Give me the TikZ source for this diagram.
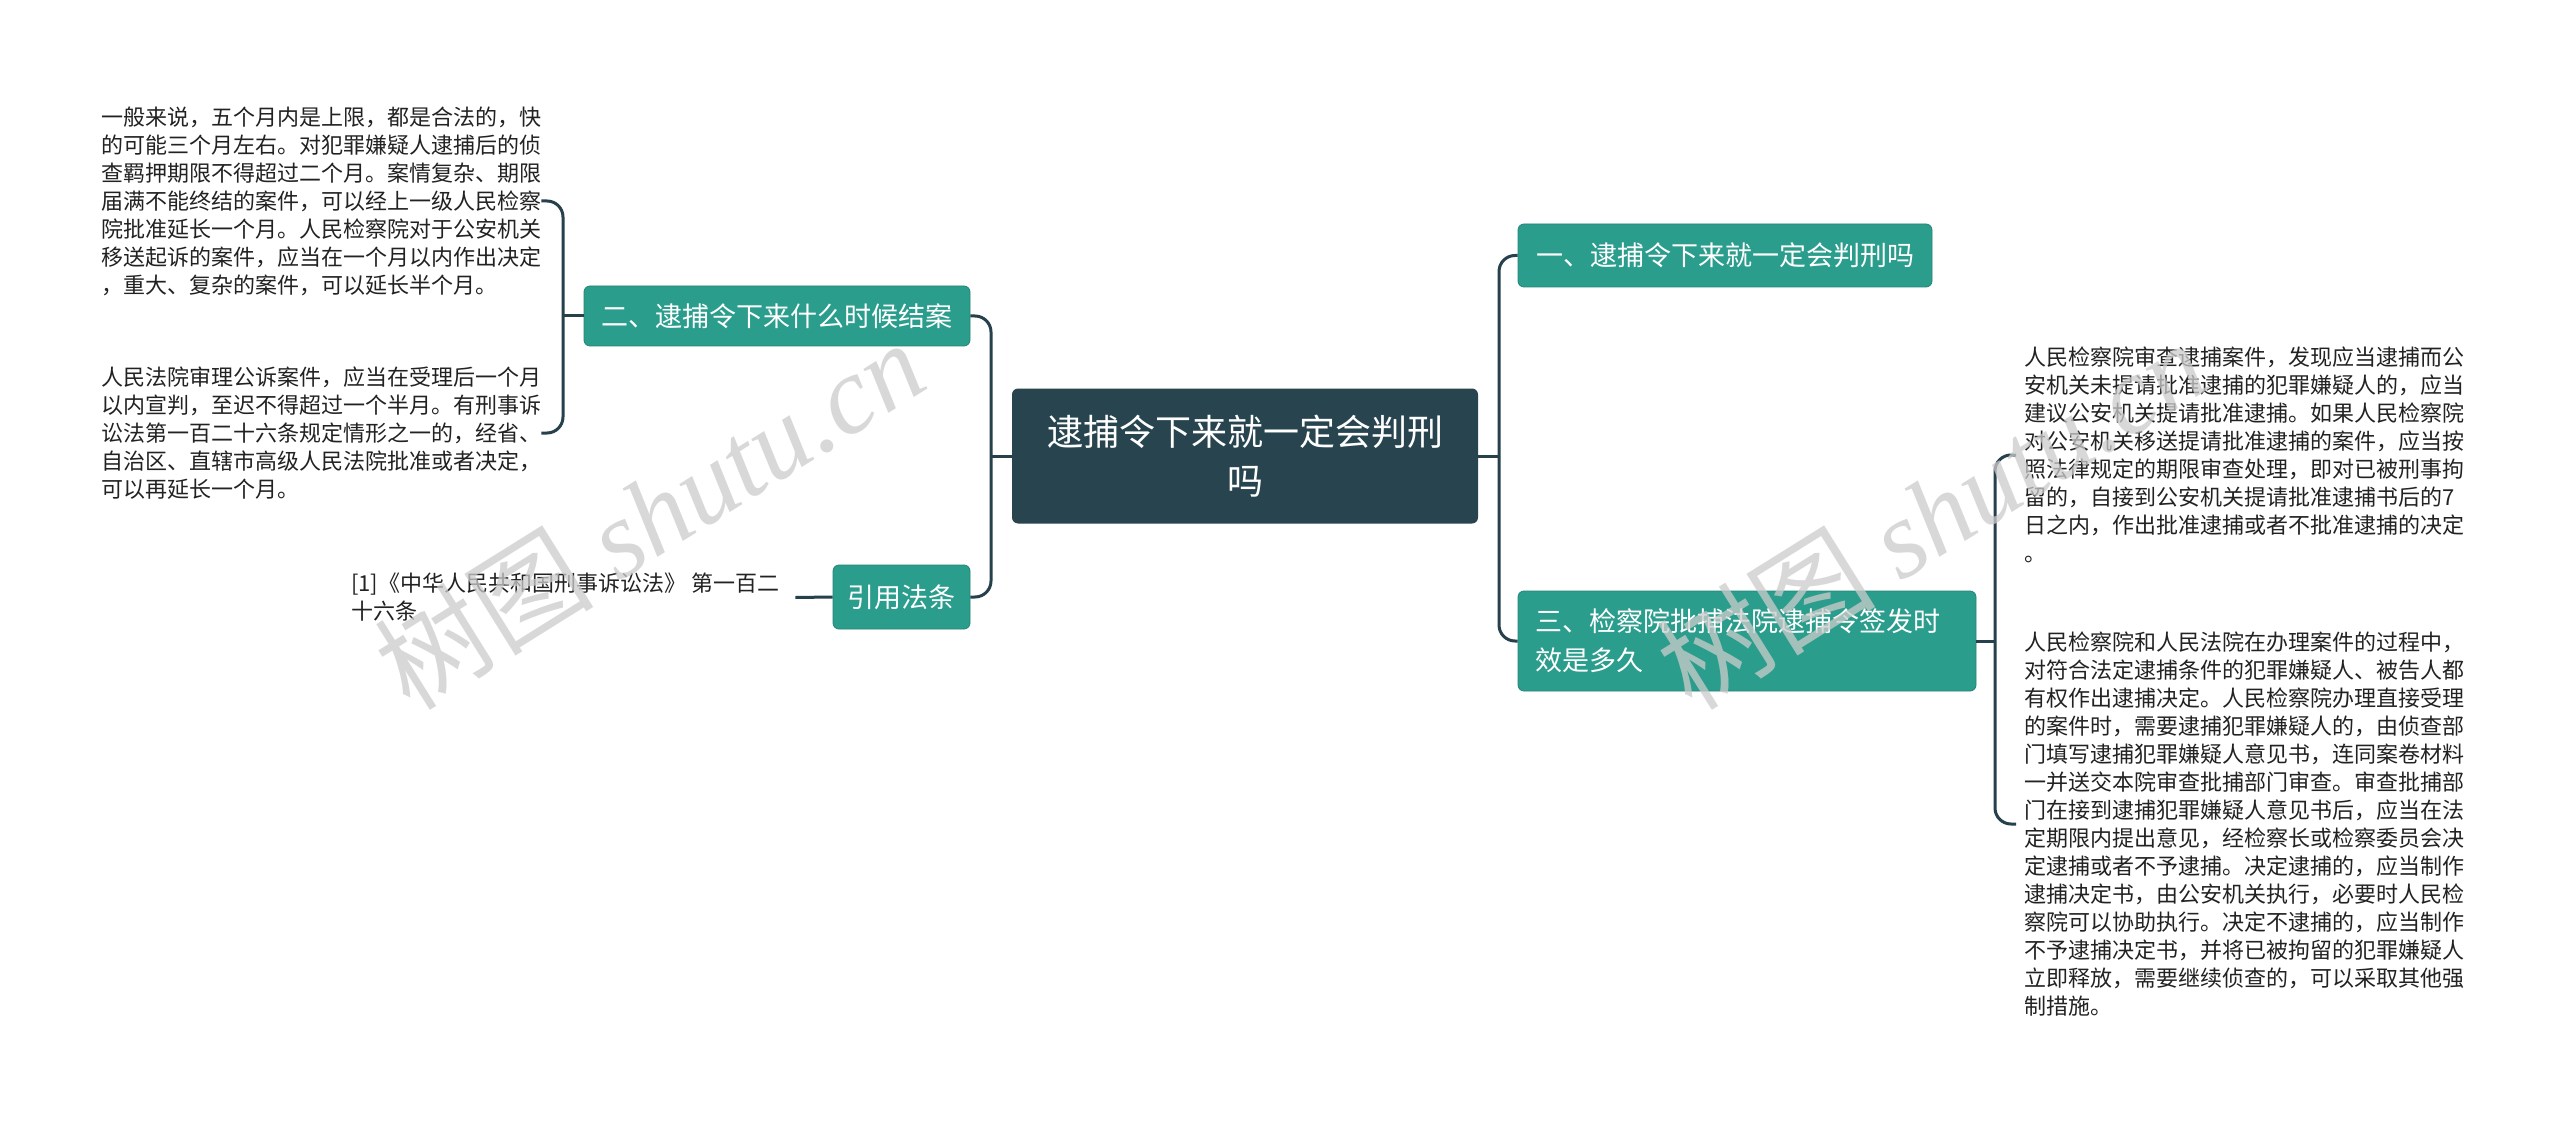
\documentclass[tikz,border=0pt]{standalone}
\usepackage{fontspec}
\setmainfont{Noto Sans CJK SC}
\newfontfamily\wmfont{Liberation Serif}
\definecolor{cdark}{HTML}{27444F}
\definecolor{cteal}{HTML}{2A9D8C}
\definecolor{cline}{HTML}{26404C}
\definecolor{ctext}{HTML}{222222}
\begin{document}
\begin{tikzpicture}[x=1pt,y=-1pt,
  central/.style={fill=cdark,text=white,rounded corners=6pt,minimum width=466pt,minimum height=135pt,align=center,font=\fontsize{36}{49}\selectfont},
  subbox/.style={fill=cteal,draw=cteal!85!black,line width=0.8pt,text=white,rounded corners=6pt,font=\fontsize{27}{39}\selectfont,inner xsep=0pt},
  txt/.style={text=ctext,align=left,inner sep=0pt,font=\fontsize{22}{28}\selectfont},
  conn/.style={draw=cline,line width=3pt,rounded corners=16pt},
  wm/.style={text=black!20,opacity=0.75,font=\fontsize{110}{110}\selectfont}
]
\useasboundingbox (0,0) rectangle (2560,1123);
\fill[white] (0,0) rectangle (2560,1123);

% nodes
\node[central] (c) at (1245,456) {逮捕令下来就一定会判刑\\吗};
\node[subbox,minimum width=414pt,minimum height=63pt] (n1) at (1725,255.5) {一、逮捕令下来就一定会判刑吗};
\node[subbox,minimum width=458pt,minimum height=100pt,text width=424pt,align=left] (n3) at (1747,641) {三、检察院批捕法院逮捕令签发时\\效是多久};
\node[subbox,minimum width=386pt,minimum height=60pt] (n2) at (777,316) {二、逮捕令下来什么时候结案};
\node[subbox,minimum width=137pt,minimum height=64pt] (law) at (901.5,597) {引用法条};

\node[txt,anchor=west] (t1) at (101,201) {一般来说，五个月内是上限，都是合法的，快\\的可能三个月左右。对犯罪嫌疑人逮捕后的侦\\查羁押期限不得超过二个月。案情复杂、期限\\届满不能终结的案件，可以经上一级人民检察\\院批准延长一个月。人民检察院对于公安机关\\移送起诉的案件，应当在一个月以内作出决定\\，重大、复杂的案件，可以延长半个月。};
\node[txt,anchor=west] (t2) at (101,433) {人民法院审理公诉案件，应当在受理后一个月\\以内宣判，至迟不得超过一个半月。有刑事诉\\讼法第一百二十六条规定情形之一的，经省、\\自治区、直辖市高级人民法院批准或者决定，\\可以再延长一个月。};
\node[txt,anchor=west] (cite) at (351,597.5) {[1]《中华人民共和国刑事诉讼法》 第一百二\\十六条};
\node[txt,anchor=west] (r1) at (2024,455) {人民检察院审查逮捕案件，发现应当逮捕而公\\安机关未提请批准逮捕的犯罪嫌疑人的，应当\\建议公安机关提请批准逮捕。如果人民检察院\\对公安机关移送提请批准逮捕的案件，应当按\\照法律规定的期限审查处理，即对已被刑事拘\\留的，自接到公安机关提请批准逮捕书后的7\\日之内，作出批准逮捕或者不批准逮捕的决定\\。};
\node[txt,anchor=west] (r2) at (2024,824) {人民检察院和人民法院在办理案件的过程中，\\对符合法定逮捕条件的犯罪嫌疑人、被告人都\\有权作出逮捕决定。人民检察院办理直接受理\\的案件时，需要逮捕犯罪嫌疑人的，由侦查部\\门填写逮捕犯罪嫌疑人意见书，连同案卷材料\\一并送交本院审查批捕部门审查。审查批捕部\\门在接到逮捕犯罪嫌疑人意见书后，应当在法\\定期限内提出意见，经检察长或检察委员会决\\定逮捕或者不予逮捕。决定逮捕的，应当制作\\逮捕决定书，由公安机关执行，必要时人民检\\察院可以协助执行。决定不逮捕的，应当制作\\不予逮捕决定书，并将已被拘留的犯罪嫌疑人\\立即释放，需要继续侦查的，可以采取其他强\\制措施。};

% junctions
\coordinate (jR) at (1499,456);
\coordinate (jL) at (991,456);
\coordinate (jL2) at (563,316);
\coordinate (jR2) at (1995,641);

% connectors
\draw[conn] (c.east) -- (jR);
\draw[conn] (jR) |- (n1.west);
\draw[conn] (jR) |- (n3.west);
\draw[conn] (c.west) -- (jL);
\draw[conn] (jL) |- (n2.east);
\draw[conn] (jL) |- (law.east);
\draw[conn] (n2.west) -- (jL2);
\draw[conn] (jL2) |- (t1.east);
\draw[conn] (jL2) |- (t2.east);
\draw[conn] (law.west) -- ([xshift=16pt]cite.east);
\draw[conn] (n3.east) -- (jR2);
\draw[conn] (jR2) |- ([xshift=-8pt]r1.west);
\draw[conn] (jR2) |- ([xshift=-8pt]r2.west);

% watermarks
\node[wm,rotate=32] (wm1) at (649,514) {树图 {\wmfont\itshape shutu.cn}};
\node[wm,rotate=32] (wm2) at (1931,514) {树图 {\wmfont\itshape shutu.cn}};
\end{tikzpicture}
\end{document}
